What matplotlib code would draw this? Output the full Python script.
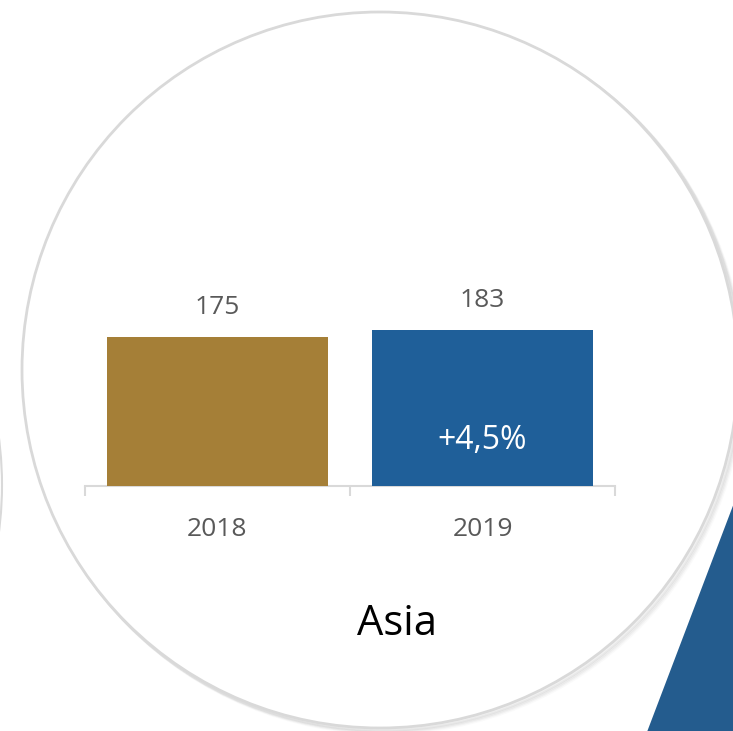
import matplotlib
matplotlib.use("Agg")
import matplotlib.pyplot as plt
from matplotlib.patches import Circle, Polygon

categories = ["2018", "2019"]
values = [175, 183]
bar_colors = ["#A57F37", "#1F5F99"]
change_label = "+4,5%"
region = "Asia"

plt.rcParams['font.family'] = ['Open Sans', 'DejaVu Sans']

W, H = 733, 731
fig = plt.figure(figsize=(W / 100, H / 100), dpi=100)
fig.patch.set_facecolor("white")

# background decoration axes in pixel coordinates
bg = fig.add_axes([0, 0, 1, 1])
bg.set_xlim(0, W)
bg.set_ylim(H, 0)
bg.axis("off")

# left partial circle
bg.add_patch(Circle((-360, 485), 362, facecolor="white", edgecolor="#D9D9D9", lw=1.5))
# triangle
bg.add_patch(Polygon([(734, 503), (647, 732), (734, 732)], closed=True,
                     facecolor="#245C8E", edgecolor="none"))
# shadow of main circle
for i, a in enumerate([0.10, 0.08, 0.06, 0.04]):
    off = 2 + i
    bg.add_patch(Circle((380 + off, 370 + off), 358, facecolor="none",
                        edgecolor="#808080", lw=2.5, alpha=a))
bg.add_patch(Circle((380, 370), 358, facecolor="white", edgecolor="#D9D9D9", lw=2))

# data axes
x0, x1 = 85, 615
ybase = 486
ppu = 0.853
ymax = 200
ax = fig.add_axes([x0 / W, (H - ybase) / H, (x1 - x0) / W, ymax * ppu / H])
ax.set_facecolor("none")
xs = list(range(len(categories)))
ax.bar(xs, values, width=0.834, color=bar_colors, zorder=3)
ax.set_xlim(-0.5, len(categories) - 0.5)
ax.set_ylim(0, ymax)

for s in ["top", "right", "left"]:
    ax.spines[s].set_visible(False)
ax.spines["bottom"].set_color("#D9D9D9")
ax.spines["bottom"].set_linewidth(1.5)
ax.set_yticks([])
ax.set_xticks(xs)
ax.set_xticklabels(categories, fontsize=19, color="#595959")
ax.tick_params(axis="x", which="major", length=0, pad=22)
ax.set_xticks([-0.5, 0.5, 1.5], minor=True)
ax.tick_params(axis="x", which="minor", length=7, width=1.5, color="#D9D9D9")

for x, v in zip(xs, values):
    ax.annotate(str(v), (x, v), xytext=(0, 21), textcoords="offset points",
                ha="center", va="center", fontsize=19, color="#595959")

ax.annotate(change_label, (xs[-1], 0), xytext=(0, 33), textcoords="offset points",
            ha="center", va="center", fontsize=23, color="white", zorder=4)

fig.text(397 / W, 1 - 624 / H, region, ha="center", va="center", fontsize=30, color="black")

fig.savefig("out.png", dpi=100, facecolor="white")
